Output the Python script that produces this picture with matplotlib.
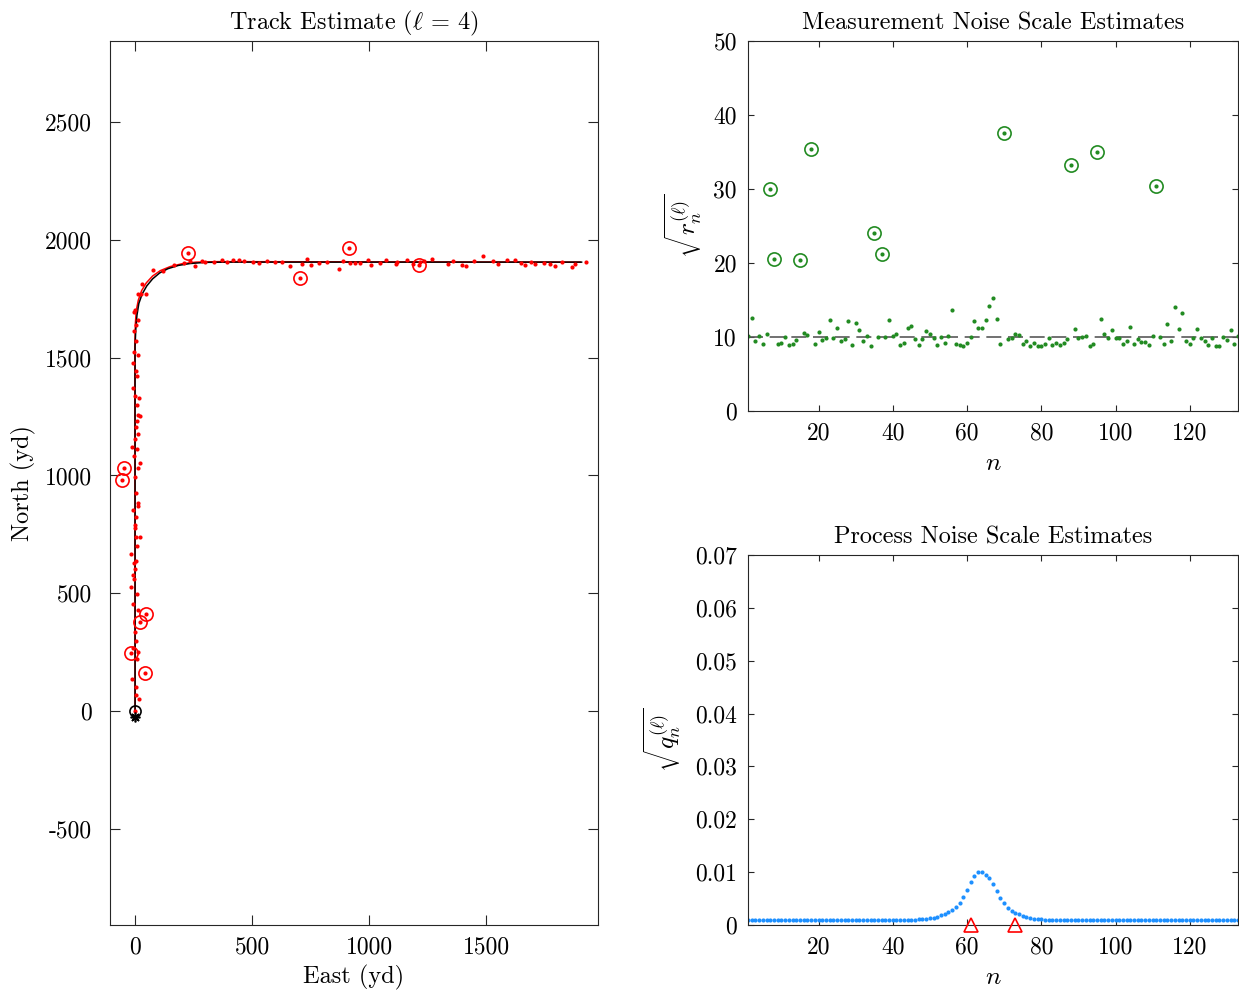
import matplotlib.pyplot as plt
import matplotlib

matplotlib.rcParams['font.family'] = 'serif'
matplotlib.rcParams['font.serif'] = ['cmr10', 'DejaVu Serif']
matplotlib.rcParams['mathtext.fontset'] = 'cm'
matplotlib.rcParams['axes.unicode_minus'] = False
matplotlib.rcParams['axes.formatter.use_mathtext'] = False

# measurements, n = 1..133 (yd)
meas_east = [-1, 15, 4, 3, -13, 10, 44, -18, 11, -7,
             2, -2, 11, -10, 21, 7, -16, 46, -6, -9,
             1, -5, 6, -19, 10, 6, 20, 0, -1, 5,
             -9, 11, 11, 3, -57, -1, -49, 14, 21, -3,
             7, -11, -1, 11, 2, 10, 21, 14, 10, 17,
             -1, -9, 10, 3, -9, 11, -6, 3, -3, 3,
             11, -4, 1, 14, 46, 24, 29, 77, 121, 225,
             165, 209, 236, 257, 285, 300, 339, 370, 392, 420,
             443, 464, 502, 529, 563, 598, 629, 703, 662, 714,
             735, 751, 787, 819, 915, 869, 886, 916, 938, 962,
             993, 1007, 1047, 1070, 1115, 1118, 1160, 1188, 1216, 1233,
             1212, 1269, 1334, 1358, 1397, 1411, 1447, 1487, 1529, 1548,
             1586, 1622, 1646, 1663, 1690, 1706, 1744, 1771, 1791, 1821,
             1865, 1878, 1923]
meas_north = [1, 50, 68, 103, 135, 221, 160, 245, 249, 266,
              299, 337, 429, 456, 377, 497, 525, 413, 562, 578,
              604, 630, 638, 665, 702, 739, 740, 778, 790, 822,
              855, 872, 885, 924, 981, 995, 1033, 1031, 1054, 1083,
              1112, 1122, 1155, 1178, 1205, 1231, 1254, 1257, 1301, 1329,
              1338, 1373, 1422, 1444, 1476, 1512, 1523, 1573, 1612, 1639,
              1662, 1693, 1701, 1769, 1772, 1769, 1815, 1874, 1868, 1946,
              1895, 1904, 1911, 1888, 1911, 1908, 1908, 1915, 1908, 1913,
              1913, 1912, 1905, 1901, 1912, 1905, 1905, 1838, 1891, 1900,
              1918, 1893, 1904, 1907, 1966, 1878, 1909, 1904, 1904, 1902,
              1914, 1893, 1903, 1914, 1896, 1906, 1916, 1900, 1906, 1909,
              1895, 1921, 1899, 1912, 1893, 1888, 1909, 1933, 1909, 1899,
              1914, 1915, 1901, 1893, 1907, 1899, 1903, 1900, 1891, 1907,
              1886, 1900, 1905]

outlier_n = [7, 8, 15, 18, 35, 37, 70, 88, 95, 111]

# true track and estimated track (waypoints)
true_east = [0, 0, 3, 8, 16, 30, 50, 75, 105, 140, 185, 235, 300, 400, 1906]
true_north = [0, 1550, 1620, 1680, 1730, 1770, 1805, 1835, 1860, 1878, 1892, 1900, 1905, 1906, 1906]
est_east = [0, -1, 1, 5, 14, 28, 48, 75, 108, 150, 200, 260, 350, 1900]
est_north = [0, 1550, 1640, 1700, 1745, 1785, 1818, 1847, 1870, 1887, 1899, 1906, 1908, 1906]

# sqrt(r_n) estimates
r_est = [10.1, 12.6, 9.4, 10.2, 9.1, 10.4, 30.0, 20.5, 9.05, 9.2,
         10.0, 8.9, 9.0, 9.6, 20.4, 10.6, 10.3, 35.4, 9.05, 10.7,
         9.55, 9.9, 12.3, 9.8, 11.2, 9.4, 9.7, 12.2, 8.9, 11.9,
         10.9, 9.4, 10.2, 8.8, 24.0, 10.0, 21.2, 10.0, 12.3, 10.2,
         10.4, 8.9, 9.2, 11.2, 11.5, 9.7, 8.9, 9.7, 10.8, 10.4,
         9.9, 8.9, 10.0, 9.2, 10.1, 13.6, 9.1, 8.9, 8.8, 9.2,
         10.0, 12.2, 11.2, 11.2, 12.3, 14.2, 15.3, 12.4, 9.0, 37.5,
         9.7, 9.9, 10.4, 10.3, 9.05, 9.4, 8.8, 9.2, 8.8, 8.8,
         9.1, 9.9, 8.9, 9.2, 8.9, 9.2, 9.7, 33.3, 11.1, 9.8,
         10.0, 10.1, 8.8, 9.0, 35.0, 12.5, 10.4, 9.8, 11.0, 9.8,
         9.9, 9.1, 9.5, 11.3, 9.1, 9.7, 9.3, 9.3, 8.9, 10.2,
         30.4, 10.0, 9.1, 11.8, 9.4, 14.05, 11.1, 13.2, 9.4, 9.0,
         9.9, 11.1, 9.8, 9.5, 8.9, 9.8, 8.8, 8.8, 9.95, 9.6,
         10.9, 9.1, 10.1]
r_nominal = 10

# sqrt(q_n) estimates
q_est = [0.001, 0.001, 0.001, 0.001, 0.001, 0.001, 0.001, 0.001, 0.001, 0.001,
         0.001, 0.001, 0.001, 0.001, 0.001, 0.001, 0.001, 0.001, 0.001, 0.001,
         0.001, 0.001, 0.001, 0.001, 0.001, 0.001, 0.001, 0.001, 0.001, 0.001,
         0.001, 0.001, 0.001, 0.001, 0.001, 0.001, 0.001, 0.001, 0.001, 0.001,
         0.001, 0.001, 0.001, 0.001, 0.001, 0.001, 0.00105, 0.0011, 0.0012, 0.0013,
         0.0014, 0.0016, 0.0018, 0.0021, 0.0024, 0.0028, 0.0034, 0.0042, 0.0053, 0.0066,
         0.0081, 0.0093, 0.0100, 0.0100, 0.0094, 0.0088, 0.0077, 0.0064, 0.0052, 0.0041,
         0.0033, 0.0027, 0.0023, 0.0020, 0.0017, 0.0015, 0.0013, 0.0012, 0.0011, 0.00105,
         0.001, 0.001, 0.001, 0.001, 0.001, 0.001, 0.001, 0.001, 0.001, 0.001,
         0.001, 0.001, 0.001, 0.001, 0.001, 0.001, 0.001, 0.001, 0.001, 0.001,
         0.001, 0.001, 0.001, 0.001, 0.001, 0.001, 0.001, 0.001, 0.001, 0.001,
         0.001, 0.001, 0.001, 0.001, 0.001, 0.001, 0.001, 0.001, 0.001, 0.001,
         0.001, 0.001, 0.001, 0.001, 0.001, 0.001, 0.001, 0.001, 0.001, 0.001,
         0.001, 0.001, 0.001]
maneuver_n = [61, 73]

n = list(range(1, len(r_est) + 1))
out_e = [meas_east[k - 1] for k in outlier_n]
out_no = [meas_north[k - 1] for k in outlier_n]
out_r = [r_est[k - 1] for k in outlier_n]

axcol = '0.15'
fs_tick = 17
fs_text = 17.5
green = '#228B22'


def style(ax, ticklen):
    for s in ax.spines.values():
        s.set_color(axcol)
        s.set_linewidth(0.8)
    ax.tick_params(direction='in', top=True, right=True, length=ticklen,
                   width=0.8, color=axcol, labelcolor='black', labelsize=fs_tick)


fig = plt.figure(figsize=(12.39, 9.92), dpi=100)

# 左图：航迹
ax1 = fig.add_axes([110 / 1239, 67 / 992, 488 / 1239, 884 / 992])
ax1.plot(est_east, est_north, color='red', linewidth=1.1)
ax1.plot(true_east, true_north, color='black', linewidth=1.1)
ax1.plot(meas_east, meas_north, 'o', color='red', markersize=3.0, markeredgewidth=0)
ax1.plot(out_e, out_no, 'o', markerfacecolor='none', markeredgecolor='red',
         markersize=9.5, markeredgewidth=1.2)
ax1.plot([0], [0], 'o', markerfacecolor='none', markeredgecolor='black',
         markersize=8, markeredgewidth=1.2)
ax1.plot([0], [-25], marker=(8, 2, 0), color='black', markersize=7, markeredgewidth=1.2)
ax1.set_xlim(-107, 1976)
ax1.set_ylim(-909, 2845)
ax1.set_xticks([0, 500, 1000, 1500])
ax1.set_yticks([-500, 0, 500, 1000, 1500, 2000, 2500])
style(ax1, 7)
ax1.tick_params(axis='y', pad=13)
ax1.tick_params(axis='x', pad=8)
ax1.set_xlabel('East (yd)', fontsize=fs_text, labelpad=5)
ax1.set_ylabel('North (yd)', fontsize=fs_text, labelpad=6)
ax1.set_title('Track Estimate ($\\ell$ = 4)', fontsize=fs_text, pad=8)

# 右上：测量噪声
ax2 = fig.add_axes([748 / 1239, 581 / 992, 490 / 1239, 370 / 992])
ax2.plot([1, 133], [r_nominal, r_nominal], '--', color='0.35', linewidth=1.2, dashes=(9, 4))
ax2.plot(n, r_est, 'o', color=green, markersize=3.0, markeredgewidth=0)
ax2.plot(outlier_n, out_r, 'o', markerfacecolor='none', markeredgecolor=green,
         markersize=9.5, markeredgewidth=1.2)
ax2.set_xlim(1, 133)
ax2.set_ylim(0, 50)
ax2.set_xticks([20, 40, 60, 80, 100, 120])
ax2.set_yticks([0, 10, 20, 30, 40, 50])
style(ax2, 4)
ax2.tick_params(pad=8)
ax2.set_xlabel(r'$n$', fontsize=fs_text + 1, labelpad=5)
ax2.set_ylabel(r'$\sqrt{r_n^{(\ell)}}$', fontsize=fs_text + 1, labelpad=6)
ax2.set_title('Measurement Noise Scale Estimates', fontsize=fs_text, pad=8)

# 右下：过程噪声
ax3 = fig.add_axes([748 / 1239, 67 / 992, 490 / 1239, 370 / 992])
ax3.plot(n, q_est, 'o', color='#1E90FF', markersize=3.0, markeredgewidth=0)
ax3.plot(maneuver_n, [0, 0], '^', markerfacecolor='none', markeredgecolor='red',
         markersize=10, markeredgewidth=1.2, clip_on=False, zorder=5)
ax3.set_xlim(1, 133)
ax3.set_ylim(0, 0.07)
ax3.set_xticks([20, 40, 60, 80, 100, 120])
ax3.set_yticks([0, 0.01, 0.02, 0.03, 0.04, 0.05, 0.06, 0.07])
ax3.set_yticklabels(['0', '0.01', '0.02', '0.03', '0.04', '0.05', '0.06', '0.07'])
style(ax3, 4)
ax3.tick_params(pad=8)
ax3.set_xlabel(r'$n$', fontsize=fs_text + 1, labelpad=5)
ax3.set_ylabel(r'$\sqrt{q_n^{(\ell)}}$', fontsize=fs_text + 1, labelpad=8)
ax3.set_title('Process Noise Scale Estimates', fontsize=fs_text, pad=8)

fig.savefig('out.png', dpi=100)
